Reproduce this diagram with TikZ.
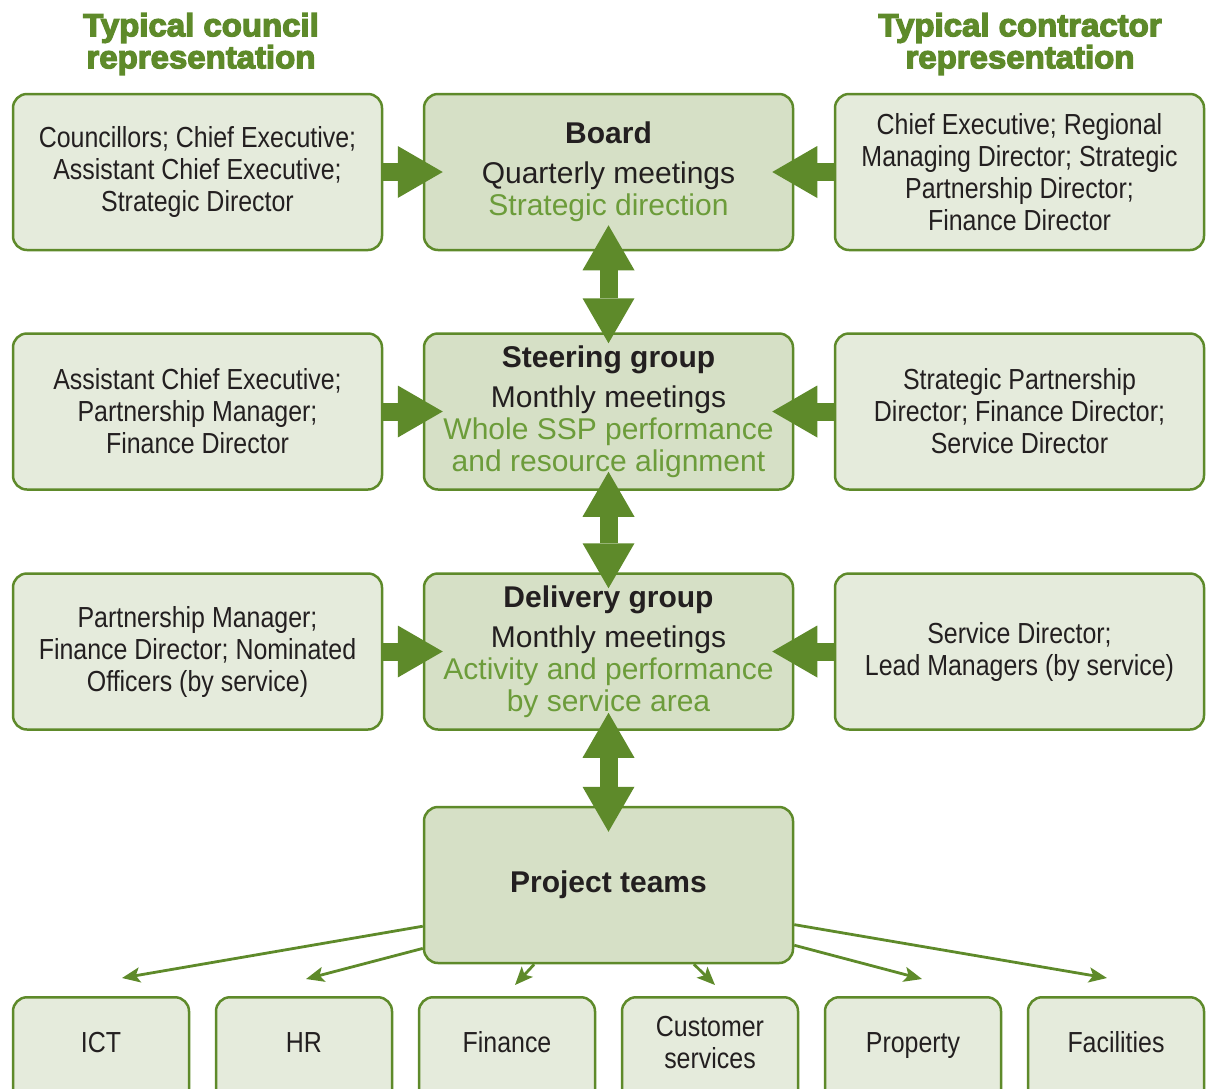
\documentclass[tikz,border=0pt]{standalone}
\usepackage{fontspec}
\setmainfont{Liberation Sans}
\newfontfamily\condfont[FakeStretch=0.86]{Liberation Sans}
\newfontfamily\headfont[FakeBold=4,FakeStretch=1.03]{Liberation Sans Bold}
\usetikzlibrary{arrows.meta,calc}
\definecolor{lgreen}{HTML}{5E8A2A}
\definecolor{cfill}{HTML}{D6E0C6}
\definecolor{sfill}{HTML}{E5EBDC}
\definecolor{gtext}{HTML}{6C9C3A}
\definecolor{ink}{HTML}{231F20}
\begin{document}
\begin{tikzpicture}[x=1pt,y=-1pt,
  box/.style={draw=lgreen, line width=2.5pt, rounded corners=14pt, minimum width=369pt, minimum height=156pt, align=center, inner sep=0pt, text=ink},
  mainbox/.style={box, fill=cfill, font=\fontsize{30}{32}\selectfont},
  sidebox/.style={box, fill=sfill, font=\condfont\fontsize{29}{32}\selectfont},
  smallbox/.style={draw=lgreen, line width=2.5pt, rounded corners=14pt, fill=sfill, minimum width=176pt, minimum height=130pt, anchor=north, inner sep=0pt},
  smalltext/.style={align=center, text=ink, font=\condfont\fontsize{29}{32}\selectfont, inner sep=0pt},
  headtext/.style={align=center, text=lgreen, font=\headfont\fontsize{32}{32}\selectfont, inner sep=0pt},
  bigarrow/.style={draw=lgreen, line width=18pt, -{Triangle[length=45pt,width=52pt,line width=0pt]}},
  bigdouble/.style={draw=lgreen, line width=18pt, {Triangle[length=45pt,width=52pt,line width=0pt]}-{Triangle[length=45pt,width=52pt,line width=0pt]}},
  thinarrow/.style={draw=lgreen, line width=2.8pt, -{Stealth[length=18pt,width=15pt,inset=4pt]}}
]
\useasboundingbox (0,0) rectangle (1215,1088);
\clip (0,0) rectangle (1215,1088);

% headings
\node[headtext] (hl) at (201,44) {Typical council\\representation};
\node[headtext] (hr) at (1020,44) {Typical contractor\\representation};

% centre column
\node[mainbox] (board) at (608.5,172) {\textbf{Board}\\[8pt]Quarterly meetings\\{\color{gtext}Strategic direction}};
\node[mainbox] (steer) at (608.5,411.5) {\textbf{Steering group}\\[8pt]Monthly meetings\\{\color{gtext}Whole SSP performance}\\{\color{gtext}and resource alignment}};
\node[mainbox] (deliv) at (608.5,651.5) {\textbf{Delivery group}\\[8pt]Monthly meetings\\{\color{gtext}Activity and performance}\\{\color{gtext}by service area}};
\node[mainbox] (proj) at (608.5,885) {\textbf{Project teams}};

% left column
\node[sidebox] (l1) at (197.5,172) {Councillors; Chief Executive;\\Assistant Chief Executive;\\Strategic Director};
\node[sidebox] (l2) at (197.5,411.5) {Assistant Chief Executive;\\Partnership Manager;\\Finance Director};
\node[sidebox] (l3) at (197.5,651.5) {Partnership Manager;\\Finance Director; Nominated\\Officers (by service)};

% right column
\node[sidebox] (r1) at (1019.5,172) {Chief Executive; Regional\\Managing Director; Strategic\\Partnership Director;\\Finance Director};
\node[sidebox] (r2) at (1019.5,411.5) {Strategic Partnership\\Director; Finance Director;\\Service Director};
\node[sidebox] (r3) at (1019.5,651.5) {Service Director;\\Lead Managers (by service)};

% bottom boxes
\node[smallbox] (bict) at (101,996) {};
\node[smallbox] (bhr) at (304,996) {};
\node[smallbox] (bfin) at (507,996) {};
\node[smallbox] (bcus) at (710,996) {};
\node[smallbox] (bpro) at (913,996) {};
\node[smallbox] (bfac) at (1116,996) {};
\node[smalltext] (tict) at (101,1046) {\strut ICT};
\node[smalltext] (thr) at (304,1046) {\strut HR};
\node[smalltext] (tfin) at (507,1046) {\strut Finance};
\node[smalltext] (tcus) at (710,1046) {\strut Customer\\\strut services};
\node[smalltext] (tpro) at (913,1046) {\strut Property};
\node[smalltext] (tfac) at (1116,1046) {\strut Facilities};

% big horizontal arrows
\draw[bigarrow] (l1.east) -- ($(board.west)+(20,0)$);
\draw[bigarrow] (l2.east) -- ($(steer.west)+(20,0)$);
\draw[bigarrow] (l3.east) -- ($(deliv.west)+(20,0)$);
\draw[bigarrow] (r1.west) -- ($(board.east)+(-22,0)$);
\draw[bigarrow] (r2.west) -- ($(steer.east)+(-22,0)$);
\draw[bigarrow] (r3.west) -- ($(deliv.east)+(-22,0)$);

% big vertical double arrows
\draw[bigdouble] ($(board.south)+(0,-26)$) -- ($(steer.north)+(0,11)$);
\draw[bigdouble] ($(steer.south)+(0,-19)$) -- ($(deliv.north)+(0,16)$);
\draw[bigdouble] ($(deliv.south)+(0,-18)$) -- ($(proj.north)+(0,26)$);

% thin arrows
\coordinate (eict) at (122,978);
\coordinate (ehr) at (306,979);
\coordinate (efin) at (515,985);
\coordinate (ecus) at (715,985);
\coordinate (epro) at (922,979);
\coordinate (efac) at (1107,978);
\draw[thinarrow] ($(proj.north west)!0.76!(proj.south west)$) -- (eict);
\draw[thinarrow] ($(proj.north west)!0.9!(proj.south west)$) -- (ehr);
\draw[thinarrow] ($(proj.south west)!0.30!(proj.south east)$) -- (efin);
\draw[thinarrow] ($(proj.south west)!0.73!(proj.south east)$) -- (ecus);
\draw[thinarrow] ($(proj.north east)!0.88!(proj.south east)$) -- (epro);
\draw[thinarrow] ($(proj.north east)!0.75!(proj.south east)$) -- (efac);
\end{tikzpicture}
\end{document}
